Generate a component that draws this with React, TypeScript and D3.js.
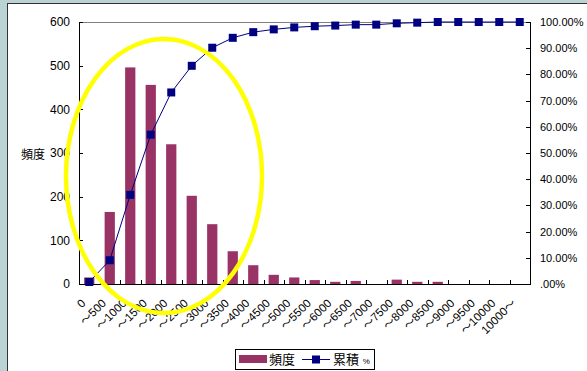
import React from "react";
import * as d3 from "d3";

const categories = ["0","～500","～1000","～1500","～2000","～2500","～3000","～3500","～4000","～4500","～5000","～5500","～6000","～6500","～7000","～7500","～8000","～8500","～9000","～9500","～10000","10000～"];
const counts = [15,165,496,456,320,202,137,75,43,21,15,9,5,7,0,10,5,5,0,0,0,0];
const cumPct = [0.76,9.06,34.04,57.0,73.11,83.28,90.18,93.96,96.12,97.18,97.94,98.39,98.64,98.99,98.99,99.5,99.75,100,100,100,100,100];
const leftTicks = [0,100,200,300,400,500,600];
const rightTicks = [0,10,20,30,40,50,60,70,80,90,100];

const W = 587, H = 371;
const PL = 79, PR = 530, PT = 22, PB = 284;
const FONT = "'Liberation Sans', Arial, 'Noto Sans CJK JP', sans-serif";
const BAR = "#993366";
const LINE = "#000080";

export default function App() {
  const x = d3.scaleBand<string>().domain(categories).range([PL, PR]).paddingInner(0.5).paddingOuter(0.25);
  const bandStep = x.step();
  const yL = d3.scaleLinear().domain([0, 600]).range([PB, PT]);
  const yR = d3.scaleLinear().domain([0, 100]).range([PB, PT]);
  const cx = (c: string) => (x(c) as number) + x.bandwidth() / 2;
  const line = d3.line<number>().x((_, i) => cx(categories[i])).y((d) => yR(d));
  const tickEdges = d3.range(categories.length + 1).map((i) => PL + i * bandStep);

  return (
    <svg width={W} height={H} style={{ position: "absolute", left: 0, top: 0 }} fontFamily={FONT}>
      <rect x={0} y={0} width={W} height={H} fill="#ffffff" />
      <rect x={0} y={0} width={7} height={H} fill="#bcd3d6" />
      <rect x={0} y={0} width={W} height={3} fill="#bcd3d6" />
      <line x1={7.5} y1={3} x2={7.5} y2={H} stroke="#333" strokeWidth={1} />
      <line x1={7} y1={3.5} x2={W} y2={3.5} stroke="#333" strokeWidth={1} />

      {/* top border */}
      <line x1={PL} y1={PT + 0.5} x2={PR} y2={PT + 0.5} stroke="#808080" strokeWidth={1} />

      {/* bars */}
      {counts.map((v, i) => (
        <rect key={i} x={x(categories[i])} y={yL(v)} width={x.bandwidth()} height={PB - yL(v)} fill={BAR} />
      ))}

      {/* axes */}
      <line x1={PL + 0.5} y1={PT} x2={PL + 0.5} y2={PB} stroke="#000" />
      <line x1={PR + 0.5} y1={PT} x2={PR + 0.5} y2={PB} stroke="#000" />
      <line x1={PL} y1={PB + 0.5} x2={PR + 1} y2={PB + 0.5} stroke="#000" />
      {leftTicks.map((t) => (
        <g key={"l" + t}>
          <line x1={PL} x2={PL + 4} y1={Math.round(yL(t)) + 0.5} y2={Math.round(yL(t)) + 0.5} stroke="#000" />
          <text x={70} y={yL(t)} dy="0.36em" textAnchor="end" fontSize={12} fill="#000">{t}</text>
        </g>
      ))}
      {rightTicks.map((t) => (
        <g key={"r" + t}>
          <line x1={PR - 4} x2={PR} y1={Math.round(yR(t)) + 0.5} y2={Math.round(yR(t)) + 0.5} stroke="#000" />
          <text x={540} y={yR(t)} dy="0.36em" textAnchor="start" fontSize={11} fill="#000">{t === 0 ? ".00%" : t.toFixed(2) + "%"}</text>
        </g>
      ))}
      {tickEdges.map((tx, i) => (
        <line key={"x" + i} x1={Math.round(tx) + 0.5} x2={Math.round(tx) + 0.5} y1={PB - 4} y2={PB} stroke="#000" />
      ))}
      {categories.map((c) => (
        <text key={"c" + c} transform={`translate(${cx(c) - 6},${301}) rotate(-45)`} textAnchor="end" dy="0.36em" fontSize={11.5} fill="#000">{c}</text>
      ))}

      <text x={21} y={155} dy="0.36em" fontSize={12} fill="#000">頻度</text>

      {/* cumulative line */}
      <path d={line(cumPct) || ""} fill="none" stroke={LINE} strokeWidth={1} />
      {cumPct.map((v, i) => (
        <rect key={"m" + i} x={cx(categories[i]) - 4} y={yR(v) - 4} width={8} height={8} fill={LINE} />
      ))}

      {/* highlight ellipse */}
      <ellipse cx={164} cy={176} rx={98} ry={137} fill="none" stroke="#ffff00" strokeWidth={4.5} />

      {/* legend */}
      <rect x={235.5} y={349.5} width={139} height={20} fill="#fff" stroke="#000" />
      <rect x={239} y={355} width={28} height={8} fill={BAR} />
      <text x={269} y={359} dy="0.36em" fontSize={13} fill="#000">頻度</text>
      <line x1={302} x2={330} y1={359.5} y2={359.5} stroke={LINE} />
      <rect x={312} y={355.5} width={8} height={8} fill={LINE} />
      <text x={333} y={359} dy="0.36em" fontSize={13} fill="#000">累積 <tspan fontSize={8}>%</tspan></text>
    </svg>
  );
}
